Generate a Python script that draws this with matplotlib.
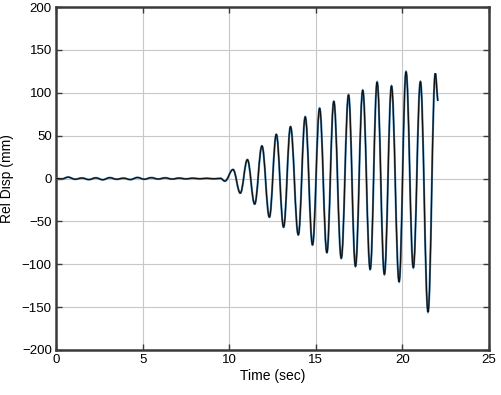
import numpy as np
import matplotlib
matplotlib.use("Agg")
import matplotlib.pyplot as plt
from matplotlib.path import Path
from matplotlib.patches import PathPatch

plt.rcParams["font.family"] = ["Liberation Sans", "DejaVu Sans"]

# Turning points of the response (time in sec, rel. displacement in mm)
noise_t = [0.0, 0.35, 0.7, 1.1, 1.5, 1.9, 2.3, 2.7, 3.1, 3.5, 3.9, 4.3, 4.7,
           5.1, 5.5, 5.9, 6.3, 6.7, 7.1, 7.5, 7.9, 8.3, 8.7, 9.1, 9.5, 9.75]
noise_v = [0.0, -0.4, 1.6, -0.8, 0.6, -1.2, 0.8, -1.4, 1.0, -0.8, 0.4, -1.2, 1.2,
           -0.8, 1.0, -0.6, 0.8, -0.6, 0.5, -0.4, 0.4, -0.3, 0.3, -0.3, 0.2, -3.0]

peak_t = [10.22, 11.05, 11.89, 12.72, 13.54, 14.39, 15.22, 16.04, 16.89,
          17.71, 18.54, 19.37, 20.21, 21.04, 21.90]
peak_v = [10.5, 22.0, 38.0, 51.5, 60.5, 72.0, 82.0, 90.0, 97.6,
          103.0, 112.5, 108.0, 124.6, 113.0, 122.6]

trough_t = [10.64, 11.47, 12.32, 13.14, 13.99, 14.81, 15.64, 16.47, 17.29,
            18.14, 18.96, 19.81, 20.63, 21.48]
trough_v = [-17.0, -29.8, -45.0, -56.7, -65.7, -77.4, -86.4, -93.0, -102.4,
            -106.0, -111.8, -120.4, -104.0, -155.6]

end_t, end_v = 22.06, 90.6

XTICKS = [0, 5, 10, 15, 20, 25]
YTICKS = [-200, -150, -100, -50, 0, 50, 100, 150, 200]


def turning_points():
    ts = list(noise_t)
    vs = list(noise_v)
    for i in range(len(peak_t)):
        ts.append(peak_t[i]); vs.append(peak_v[i])
        if i < len(trough_t):
            ts.append(trough_t[i]); vs.append(trough_v[i])
    ts.append(end_t); vs.append(end_v)
    return ts, vs


def smooth_path(ts, vs, k=0.38):
    # cubic bezier between turning points, flat tangents at each extremum
    verts = [(ts[0], vs[0])]
    codes = [Path.MOVETO]
    for i in range(1, len(ts)):
        dt = ts[i] - ts[i - 1]
        verts += [(ts[i - 1] + k * dt, vs[i - 1]),
                  (ts[i] - k * dt, vs[i]),
                  (ts[i], vs[i])]
        codes += [Path.CURVE4] * 3
    return Path(verts, codes)


fig = plt.figure(figsize=(5.02, 3.95), dpi=100)
ax = fig.add_axes([0.1116, 0.114, 0.8625, 0.868])

ts, vs = turning_points()
path = smooth_path(ts, vs)
ax.add_patch(PathPatch(path, fill=False, edgecolor="#4a86b4", lw=1.5, zorder=3))
ax.add_patch(PathPatch(path, fill=False, edgecolor="#111111", lw=0.9, zorder=4))

ax.set_xlim(0, 25)
ax.set_ylim(-200, 200)
ax.set_xticks(XTICKS)
ax.set_yticks(YTICKS)
ax.grid(True, color="#c8c8c8", lw=0.8)
ax.set_axisbelow(True)

for sp in ax.spines.values():
    sp.set_color("#3a3a3a")
    sp.set_linewidth(1.8)

ax.tick_params(direction="in", top=True, right=True, length=4, width=1,
               color="#3a3a3a", labelsize=9.5, pad=3)
ax.set_xlabel("Time (sec)", fontsize=10, labelpad=2)
ax.set_ylabel("Rel Disp (mm)", fontsize=10, labelpad=6)

fig.savefig("out.png", dpi=100)
